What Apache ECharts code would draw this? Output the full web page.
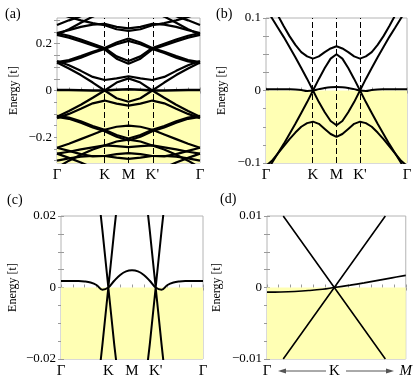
<!DOCTYPE html>
<html>
<head>
<meta charset="utf-8">
<script src="https://cdn.jsdelivr.net/npm/echarts@6.0.0/dist/echarts.min.js"></script>
<style>
  html, body { margin: 0; padding: 0; background: #fff; }
  #chart { width: 415px; height: 384px; }
</style>
</head>
<body>
<div id="chart"></div>
<script>
// path positions (fraction of path length) and their names
const pathTicks = [0, 0.3333, 0.5, 0.6667, 1];
const pathNames = ['Γ', 'K', 'M', "K'", 'Γ'];
const zoomTicks = [0, 0.485, 1];
const zoomNames = ['Γ', 'K', 'M'];

// tick labels on the energy axes
const yLabA = [-0.2, 0, 0.2];
const yLabB = [-0.1, 0, 0.1];
const yLabC = [-0.02, 0, 0.02];
const yLabD = [-0.01, 0, 0.01];

// panel (a): wide energy window, 13 samples along the path
const xa = [0, 0.0833, 0.1667, 0.25, 0.3333, 0.4167, 0.5, 0.5833, 0.6667, 0.75, 0.8333, 0.9167, 1];
const aF  = [0.002, 0.002, 0.0015, 0, 0, 0.003, 0.005, 0.003, 0, 0, 0.0015, 0.002, 0.002];
const aU1 = [0.12, 0.094, 0.066, 0.034, 0, 0.034, 0.052, 0.034, 0, 0.034, 0.066, 0.094, 0.12];
const aU2 = [0.126, 0.108, 0.084, 0.058, 0.045, 0.052, 0.061, 0.052, 0.045, 0.058, 0.084, 0.108, 0.126];
const aU3 = [0.122, 0.13, 0.147, 0.166, 0.182, 0.205, 0.222, 0.205, 0.182, 0.166, 0.147, 0.13, 0.122];
const aU4 = [0.117, 0.124, 0.14, 0.16, 0.178, 0.198, 0.212, 0.198, 0.178, 0.16, 0.14, 0.124, 0.117];
const aU5 = [0.246, 0.234, 0.218, 0.2, 0.182, 0.146, 0.126, 0.146, 0.182, 0.2, 0.218, 0.234, 0.246];
const aU6 = [0.238, 0.226, 0.21, 0.193, 0.176, 0.136, 0.114, 0.136, 0.176, 0.193, 0.21, 0.226, 0.238];
const aU7 = [0.246, 0.258, 0.272, 0.282, 0.285, 0.272, 0.266, 0.272, 0.285, 0.282, 0.272, 0.258, 0.246];
const aU8 = [0.238, 0.262, 0.29, 0.316, 0.335, 0.345, 0.35, 0.345, 0.335, 0.316, 0.29, 0.262, 0.238];
const aU9 = [0.33, 0.315, 0.3, 0.288, 0.279, 0.262, 0.255, 0.262, 0.279, 0.288, 0.3, 0.315, 0.33];
const aU10 = [0.28, 0.3, 0.318, 0.33, 0.34, 0.34, 0.34, 0.34, 0.34, 0.33, 0.318, 0.3, 0.28];
const aL1 = [-0.112, -0.088, -0.061, -0.031, 0, -0.033, -0.048, -0.033, 0, -0.031, -0.061, -0.088, -0.112];
const aL2 = [-0.118, -0.1, -0.078, -0.055, -0.043, -0.056, -0.065, -0.056, -0.043, -0.055, -0.078, -0.1, -0.118];
const aL3 = [-0.108, -0.116, -0.132, -0.152, -0.168, -0.19, -0.205, -0.19, -0.168, -0.152, -0.132, -0.116, -0.108];
const aL4 = [-0.113, -0.121, -0.138, -0.158, -0.174, -0.198, -0.214, -0.198, -0.174, -0.158, -0.138, -0.121, -0.113];
const aL5 = [-0.245, -0.228, -0.208, -0.188, -0.168, -0.155, -0.15, -0.155, -0.168, -0.188, -0.208, -0.228, -0.245];
const aL6 = [-0.27, -0.262, -0.252, -0.243, -0.235, -0.218, -0.21, -0.218, -0.235, -0.243, -0.252, -0.262, -0.27];
const aL7 = [-0.245, -0.258, -0.272, -0.282, -0.28, -0.272, -0.268, -0.272, -0.28, -0.282, -0.272, -0.258, -0.245];
const aL8 = [-0.27, -0.288, -0.308, -0.33, -0.34, -0.345, -0.35, -0.345, -0.34, -0.33, -0.308, -0.288, -0.27];
const aL9 = [-0.33, -0.3, -0.275, -0.252, -0.235, -0.238, -0.242, -0.238, -0.235, -0.252, -0.275, -0.3, -0.33];
const aL10 = [-0.3, -0.29, -0.283, -0.28, -0.28, -0.287, -0.292, -0.287, -0.28, -0.28, -0.283, -0.29, -0.3];

// panels (b) and (c): low-energy bands, 25 samples along the path
const xb = [0, 0.0417, 0.0833, 0.125, 0.1667, 0.2083, 0.25, 0.2917, 0.3333, 0.375, 0.4167, 0.4583, 0.5,
            0.5417, 0.5833, 0.625, 0.6667, 0.7083, 0.75, 0.7917, 0.8333, 0.875, 0.9167, 0.9583, 1];
const bF  = [0.0018, 0.0018, 0.0018, 0.0018, 0.0017, 0.0014, 0.0007, -0.0006, 0, 0.0019, 0.0035, 0.0045, 0.0048,
             0.0045, 0.0035, 0.0019, 0, -0.0006, 0.0007, 0.0014, 0.0017, 0.0018, 0.0018, 0.0018, 0.0018];
const bU1 = [0.113, 0.1, 0.087, 0.074, 0.06, 0.046, 0.031, 0.016, 0, 0.016, 0.031, 0.044, 0.05,
             0.044, 0.031, 0.016, 0, 0.016, 0.031, 0.046, 0.06, 0.074, 0.087, 0.1, 0.113];
const bU2 = [0.132, 0.118, 0.104, 0.089, 0.075, 0.063, 0.053, 0.047, 0.044, 0.047, 0.053, 0.058, 0.061,
             0.058, 0.053, 0.047, 0.044, 0.047, 0.053, 0.063, 0.075, 0.089, 0.104, 0.118, 0.132];
const bL1 = [-0.113, -0.1, -0.087, -0.074, -0.06, -0.046, -0.031, -0.016, 0, -0.016, -0.03, -0.042, -0.048,
             -0.042, -0.03, -0.016, 0, -0.016, -0.031, -0.046, -0.06, -0.074, -0.087, -0.1, -0.113];
const bL2 = [-0.104, -0.097, -0.087, -0.077, -0.067, -0.058, -0.05, -0.045, -0.043, -0.046, -0.053, -0.06, -0.064,
             -0.06, -0.053, -0.046, -0.043, -0.045, -0.05, -0.058, -0.067, -0.077, -0.087, -0.097, -0.104];

// panel (d): close-up around K
const xdCone = [0.117, 0.485, 0.853];
const dCone1 = [0.01, 0, -0.01];
const dCone2 = [-0.01, 0, 0.01];
const xdFlat = [0, 0.1, 0.2, 0.3, 0.4, 0.485, 0.6, 0.7, 0.8, 0.9, 1];
const dFlat  = [-0.00065, -0.00062, -0.00055, -0.00043, -0.00025, 0, 0.00033, 0.00065, 0.001, 0.00135, 0.0017];

const serif = "'Liberation Serif', 'DejaVu Serif', serif";
const yellow = '#ffffb4';
const tickCol = '#9a9a9a';
const twelfths = [0, 0.0833, 0.1667, 0.25, 0.3333, 0.4167, 0.5, 0.5833, 0.6667, 0.75, 0.8333, 0.9167, 1];

const panels = [
  { grid: { left: 57, top: 18, width: 143, height: 145 }, min: -0.31, max: 0.31, yLab: yLabA, yStep: 0.05, gap: 37, dashed: true },
  { grid: { left: 266, top: 18, width: 141, height: 145 }, min: -0.1, max: 0.1, yLab: yLabB, yStep: 0.025, gap: 38, dashed: true },
  { grid: { left: 61, top: 216, width: 142, height: 143 }, min: -0.02, max: 0.02, yLab: yLabC, yStep: 0.005, gap: 42, dashed: false },
  { grid: { left: 267, top: 216, width: 142, height: 143 }, min: -0.01, max: 0.01, yLab: yLabD, yStep: 0.0025, gap: 44, dashed: false }
];

function steps(min, max, step) {
  const out = [];
  for (let v = Math.ceil(min / step - 1e-9) * step; v <= max + 1e-9; v += step) out.push(+v.toFixed(6));
  return out;
}
function fmtY(v) {
  if (Math.abs(v) < 1e-12) return '0';
  return String(+v.toFixed(4)).replace('-', '\u2212');
}
function pick(vals, names) {
  return function (v) {
    for (let i = 0; i < vals.length; i++) if (Math.abs(vals[i] - v) < 1e-4) return names[i];
    return '';
  };
}

const grid = [], xAxis = [], yAxis = [], series = [];
panels.forEach(function (p, k) {
  grid.push(Object.assign({ show: true, borderColor: '#b4b4b4', borderWidth: 1, containLabel: false }, p.grid));
  const isD = k === 3;
  const tickBase = { show: true, inside: true, length: 3, lineStyle: { color: tickCol, width: 1 }, customValues: twelfths };
  xAxis.push({
    gridIndex: k, type: 'value', min: 0, max: 1, position: 'bottom',
    axisLine: { show: false }, splitLine: { show: false }, axisTick: tickBase,
    axisLabel: {
      customValues: isD ? zoomTicks : pathTicks,
      formatter: isD ? function (v) { const s = pick(zoomTicks, zoomNames)(v); return s === 'M' ? '{it|M}' : s; } : pick(pathTicks, pathNames),
      fontFamily: serif, fontSize: 15, color: '#000', margin: 5,
      rich: { it: { fontStyle: 'italic', fontFamily: serif, fontSize: 15, color: '#000' } }
    }
  });
  xAxis.push({
    gridIndex: k, type: 'value', min: 0, max: 1, position: 'top',
    axisLine: { show: false }, splitLine: { show: false }, axisTick: tickBase, axisLabel: { show: false }
  });
  const yTick = { show: true, inside: true, length: 3, lineStyle: { color: tickCol, width: 1 }, customValues: steps(p.min, p.max, p.yStep) };
  yAxis.push({
    gridIndex: k, type: 'value', min: p.min, max: p.max, position: 'left',
    axisLine: { show: false }, splitLine: { show: false }, axisTick: yTick,
    axisLabel: { customValues: p.yLab, formatter: fmtY, fontFamily: serif, fontSize: 13, color: '#000', margin: 5, showMinLabel: true, showMaxLabel: true },
    name: 'Energy [t]', nameLocation: 'middle', nameRotate: 90, nameGap: p.gap,
    nameTextStyle: { fontFamily: serif, fontSize: 12, color: '#000' }
  });
  yAxis.push({
    gridIndex: k, type: 'value', min: p.min, max: p.max, position: 'right',
    axisLine: { show: false }, splitLine: { show: false }, axisTick: yTick, axisLabel: { show: false }
  });

  // filled (occupied) region and high-symmetry markers
  const bg = {
    type: 'line', xAxisIndex: 2 * k, yAxisIndex: 2 * k, data: [[0, 0]], symbol: 'none',
    lineStyle: { opacity: 0 }, silent: true, z: 1,
    markArea: { silent: true, itemStyle: { color: yellow }, data: [[{ coord: [0, 0] }, { coord: [1, p.min] }]] }
  };
  if (p.dashed) {
    bg.markLine = {
      silent: true, symbol: ['none', 'none'], label: { show: false },
      lineStyle: { color: '#000', width: 1, type: [6, 3] },
      data: [{ xAxis: pathTicks[1] }, { xAxis: pathTicks[2] }, { xAxis: pathTicks[3] }]
    };
  }
  series.push(bg);
});

function band(k, xs, ys, w, smooth) {
  series.push({
    type: 'line', xAxisIndex: 2 * k, yAxisIndex: 2 * k,
    data: xs.map(function (x, i) { return [x, ys[i]]; }),
    symbol: 'none', smooth: smooth || false, silent: true, z: 3,
    lineStyle: { color: '#000', width: w }
  });
}

[aU1, aU2, aU3, aU4, aU5, aU6, aU7, aU8, aU9, aU10, aL1, aL2, aL3, aL4, aL5, aL6, aL7, aL8, aL9, aL10]
  .forEach(function (b) { band(0, xa, b, 2.2); });
band(0, xa, aF, 2.5);

[bU1, bU2, bL1, bL2].forEach(function (b) { band(1, xb, b, 2); });
band(1, xb, bF, 2, 0.4);

[bU1, bL1].forEach(function (b) { band(2, xb, b, 2); });
band(2, xb, bF, 2, 0.4);

band(3, xdCone, dCone1, 1.6);
band(3, xdCone, dCone2, 1.6);
band(3, xdFlat, dFlat, 1.6, 0.4);

const txt = function (x, y, s) {
  return { type: 'text', left: x, top: y, style: { text: s, font: "14px 'Liberation Serif'", fill: '#000' } };
};
const arrowCol = '#555';

const chart = echarts.init(document.getElementById('chart'));
chart.setOption({
  animation: false,
  grid: grid, xAxis: xAxis, yAxis: yAxis, series: series,
  graphic: [
    txt(5, 7, '(a)'), txt(216, 7, '(b)'), txt(7, 193, '(c)'), txt(220, 192, '(d)'),
    { type: 'line', shape: { x1: 284, y1: 371, x2: 326, y2: 371 }, style: { stroke: arrowCol, lineWidth: 1 } },
    { type: 'polygon', shape: { points: [[278, 371], [286, 368.5], [286, 373.5]] }, style: { fill: arrowCol } },
    { type: 'line', shape: { x1: 346, y1: 371, x2: 388, y2: 371 }, style: { stroke: arrowCol, lineWidth: 1 } },
    { type: 'polygon', shape: { points: [[394, 371], [386, 368.5], [386, 373.5]] }, style: { fill: arrowCol } }
  ]
});
</script>
</body>
</html>
